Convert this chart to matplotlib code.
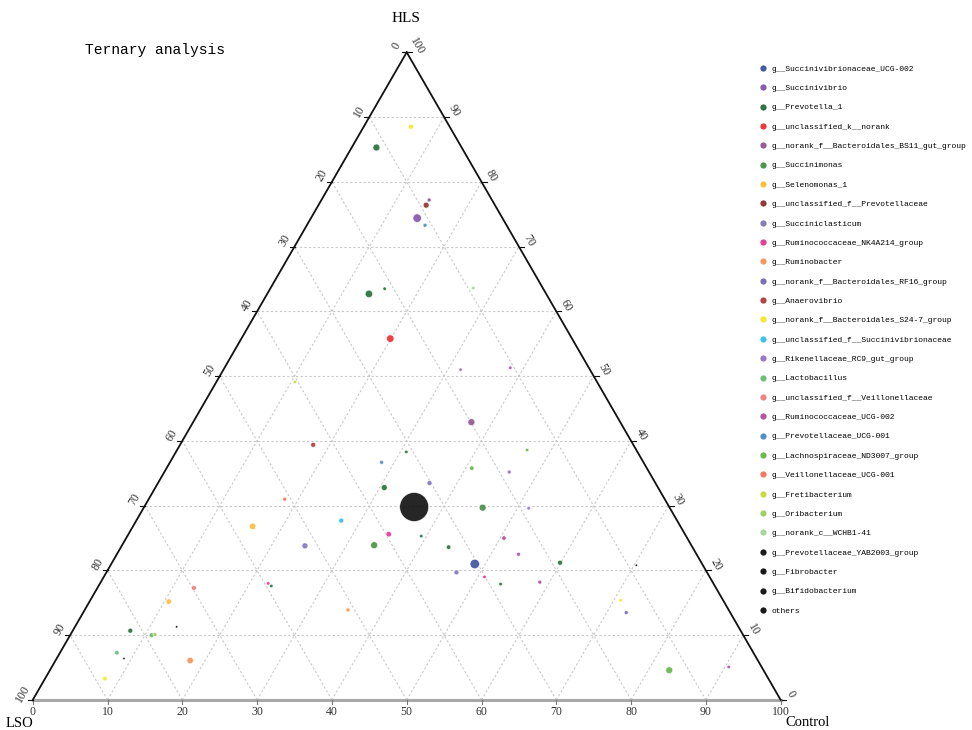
import numpy as np
import matplotlib.pyplot as plt
from matplotlib.lines import Line2D
from matplotlib.font_manager import FontProperties

# legend order and colours
genera = [
    'g__Succinivibrionaceae_UCG-002', 'g__Succinivibrio', 'g__Prevotella_1',
    'g__unclassified_k__norank', 'g__norank_f__Bacteroidales_BS11_gut_group',
    'g__Succinimonas', 'g__Selenomonas_1', 'g__unclassified_f__Prevotellaceae',
    'g__Succiniclasticum', 'g__Ruminococcaceae_NK4A214_group', 'g__Ruminobacter',
    'g__norank_f__Bacteroidales_RF16_group', 'g__Anaerovibrio',
    'g__norank_f__Bacteroidales_S24-7_group', 'g__unclassified_f__Succinivibrionaceae',
    'g__Rikenellaceae_RC9_gut_group', 'g__Lactobacillus',
    'g__unclassified_f__Veillonellaceae', 'g__Ruminococcaceae_UCG-002',
    'g__Prevotellaceae_UCG-001', 'g__Lachnospiraceae_ND3007_group',
    'g__Veillonellaceae_UCG-001', 'g__Fretibacterium', 'g__Oribacterium',
    'g__norank_c__WCHB1-41', 'g__Prevotellaceae_YAB2003_group', 'g__Fibrobacter',
    'g__Bifidobacterium', 'others']
colors = [
    '#2f4a9e', '#7b4aa3', '#17662e', '#ee2024', '#8b4b8b', '#3a8a3a', '#fdb92a',
    '#8a2424', '#7670b3', '#e7298a', '#f58d4b', '#6b61b0', '#b22c2c', '#f7e51a',
    '#2cb7ea', '#8c6bbf', '#5cb865', '#f07575', '#a8449a', '#3d84c6', '#57b33e',
    '#f26a4f', '#c3d52c', '#98c957', '#9ed38f', '#000000', '#000000', '#000000',
    '#000000']

# one entry per point: genus index, HLS %, Control %, LSO %, relative abundance
point_genus = [13, 2, 4, 7, 1, 19, 2, 2, 24, 3, 22, 15, 18, 4, 12, 2, 19, 20, 20, 15,
               8, 2, 28, 5, 15, 21, 6, 14, 9, 2, 5, 8, 2, 18, 18, 0, 2, 8, 9, 2,
               18, 26, 13, 11, 9, 2, 17, 6, 10, 2, 25, 16, 23, 16, 27, 10, 13, 20, 18]
hls = [88.5, 85.3, 77.2, 76.4, 74.4, 73.3, 62.7, 63.5, 63.6, 55.8, 49.1, 51.0, 51.3,
       42.9, 39.4, 38.3, 36.7, 38.6, 35.8, 35.2, 33.5, 32.8, 29.8, 29.7, 29.6, 31.0,
       26.8, 27.7, 25.6, 25.3, 23.9, 23.8, 23.6, 25.0, 22.5, 21.0, 21.2, 19.7, 19.0,
       17.9, 18.2, 20.8, 15.4, 13.5, 18.0, 17.6, 17.3, 15.2, 13.9, 10.7, 11.3, 10.0,
       10.1, 7.3, 6.4, 6.1, 3.3, 4.6, 5.1]
control = [6.3, 3.3, 14.4, 14.4, 14.2, 15.8, 13.6, 15.3, 27.1, 19.9, 10.5, 31.7, 38.2,
           37.2, 17.8, 30.8, 28.3, 46.8, 40.8, 46.1, 36.3, 30.6, 36.1, 45.3, 51.5, 18.2,
           16.0, 27.4, 34.8, 39.3, 33.7, 24.5, 43.8, 50.5, 53.7, 48.6, 59.9, 46.8, 50.9,
           53.6, 58.7, 70.3, 70.9, 72.6, 22.5, 23.1, 12.9, 10.6, 35.2, 7.7, 13.6, 10.9,
           11.3, 7.6, 9.0, 18.0, 8.0, 82.8, 90.5]
lso = [5.2, 11.4, 8.4, 9.2, 11.4, 10.9, 23.7, 21.2, 9.3, 24.3, 40.4, 17.3, 10.5, 19.9,
       42.8, 30.9, 35.0, 14.6, 23.4, 18.7, 30.2, 36.6, 34.1, 25.0, 18.9, 50.8, 57.2,
       44.9, 39.6, 35.4, 42.4, 51.7, 32.6, 24.5, 23.8, 30.4, 18.9, 33.5, 30.1, 28.5,
       23.1, 8.9, 13.7, 13.9, 59.5, 59.3, 69.8, 74.2, 50.9, 81.6, 75.1, 79.1, 78.6,
       85.1, 84.6, 75.9, 88.7, 12.6, 4.4]
abundance = [1.0, 1.96, 0.64, 1.44, 2.89, 0.64, 2.25, 0.49, 0.49, 2.25, 0.49, 0.49, 0.49,
             1.96, 1.0, 0.49, 0.64, 0.49, 0.81, 0.64, 1.0, 1.44, 33.64, 1.96, 0.49, 0.64,
             1.69, 1.0, 1.21, 0.49, 1.96, 1.44, 0.81, 0.81, 0.64, 3.61, 1.0, 1.0, 0.49,
             0.49, 0.64, 0.25, 0.49, 0.64, 0.49, 0.49, 1.0, 1.21, 0.64, 1.0, 0.25, 1.0,
             0.64, 0.81, 0.25, 1.69, 0.81, 1.96, 0.49]

ticks = list(range(0, 101, 10))

H3 = np.sqrt(3) / 2
PX = 1 / 748.0  # one pixel in triangle units


def to_xy(l, c, h):
    l = np.asarray(l, float)
    c = np.asarray(c, float)
    h = np.asarray(h, float)
    tot = l + c + h
    return (c + h / 2) / tot, h / tot * H3


mono = 'Liberation Mono'
serif = 'Liberation Serif'

fig = plt.figure(figsize=(9.72, 7.30), dpi=100)
ax = fig.add_axes([32.7 / 972, 30 / 730, 748 / 972, 647.7 / 730])
ax.set_xlim(0, 1)
ax.set_ylim(0, H3)
ax.axis('off')

# dashed grid
gkw = dict(color='#c8c8c8', lw=0.8, ls=(0, (2, 2)), zorder=1)
for v in ticks[1:-1]:
    ax.plot(*to_xy([100 - v, 0], [0, 100 - v], [v, v]), **gkw)
    ax.plot(*to_xy([100 - v, 0], [v, v], [0, 100 - v]), **gkw)
    ax.plot(*to_xy([v, v], [100 - v, 0], [0, 100 - v]), **gkw)

# triangle edges
ax.plot(*to_xy([100, 0], [0, 100], [0, 0]), color='#a8a8a8', lw=2.2, clip_on=False, zorder=2)
ax.plot(*to_xy([100, 0], [0, 0], [0, 100]), color='#111111', lw=1.3, clip_on=False, zorder=2)
ax.plot(*to_xy([0, 0], [100, 0], [0, 100]), color='#111111', lw=1.3, clip_on=False, zorder=2)

tfont = dict(family=serif, fontsize=8.5, color='#333333')
for v in ticks:
    # bottom: Control
    x, y = to_xy(100 - v, v, 0)
    ax.plot([x, x], [y, y - 4 * PX], color='#777777', lw=0.8, clip_on=False)
    ax.text(x, y - 12 * PX, str(v), ha='center', va='center', **tfont)
    # left: LSO
    x, y = to_xy(v, 0, 100 - v)
    ax.plot([x, x - 5 * PX], [y, y], color='#111111', lw=0.8, clip_on=False)
    ax.text(x - 10 * PX, y + 6 * PX, str(v), ha='center', va='center', rotation=60, **tfont)
    # right: HLS
    x, y = to_xy(0, 100 - v, v)
    ax.plot([x, x + 5 * PX], [y, y], color='#111111', lw=0.8, clip_on=False)
    ax.text(x + 10 * PX, y + 6 * PX, str(v), ha='center', va='center', rotation=-60, **tfont)

# points
px, py = to_xy(lso, control, hls)
pc = [colors[g] for g in point_genus]
ax.scatter(px, py, s=np.array(abundance) * 12.96, c=pc, alpha=0.85,
           edgecolors='white', linewidths=0.5, zorder=3, clip_on=False)

# vertex labels and title
fig.text(406 / 972, 1 - 18 / 730, 'HLS', ha='center', va='center', family=serif, fontsize=11)
fig.text(19 / 972, 1 - 723.5 / 730, 'LSO', ha='center', va='center', family=serif, fontsize=10.5)
fig.text(785 / 972, 1 - 723 / 730, 'Control', ha='left', va='center', family=serif, fontsize=10.5)
fig.text(85 / 972, 1 - 50 / 730, 'Ternary analysis', ha='left', va='center',
         family=mono, fontsize=10.5)

handles = [Line2D([], [], ls='', marker='o', markersize=4.5, color=c, alpha=0.9,
                  markeredgewidth=0) for c in colors]
fig.legend(handles, genera, loc='upper left', bbox_to_anchor=(759.8 / 972, 1 - 65 / 730),
           frameon=False, prop=FontProperties(family=mono, size=5.8), labelspacing=1.455,
           handlelength=0.8, handletextpad=0.7, borderaxespad=0, borderpad=0)

fig.savefig('out.png', dpi=100)
